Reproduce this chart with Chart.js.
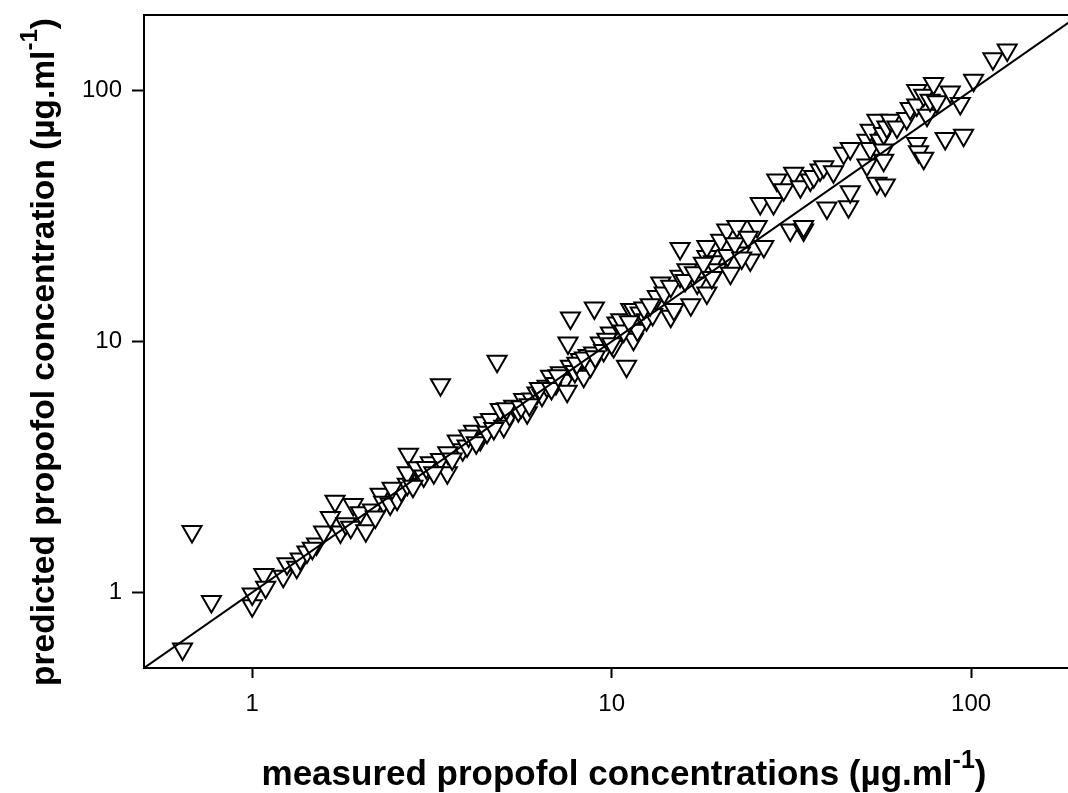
<!DOCTYPE html>
<html>
<head>
<meta charset="utf-8">
<script src="https://cdn.jsdelivr.net/npm/chart.js@4.4.1/dist/chart.umd.min.js"></script>
<style>
  html, body { margin: 0; padding: 0; background: #ffffff; overflow: hidden; }
  #wrap { width: 1068px; height: 793px; }
</style>
</head>
<body>
<div id="wrap"><canvas id="c" width="1068" height="793"></canvas></div>
<script>
// ---- data ----
const measured = [
  0.64, 0.68, 0.77, 1.0, 1.0, 1.077, 1.09, 1.22, 1.25, 1.33,
  1.36, 1.42, 1.51, 1.47, 1.58, 1.65, 1.70, 1.76, 1.82, 1.88,
  1.91, 2.0, 2.07, 2.16, 2.27, 2.32, 2.42, 2.53, 2.60, 2.70,
  2.72, 2.72, 2.70, 2.88, 3.0, 3.13, 3.34, 3.49, 3.34, 3.72,
  3.85, 3.96, 4.13, 4.31, 4.41, 4.6, 4.8, 4.9, 5.01, 5.2,
  5.34, 5.5, 5.69, 5.82, 6.0, 6.2, 6.4, 6.61, 6.76, 7.0,
  7.2, 7.4, 7.52, 7.56, 7.68, 7.68, 7.9, 8.18, 8.36, 8.6,
  8.73, 8.91, 8.95, 9.3, 9.5, 9.92, 10.13, 10.35, 10.6, 11.0,
  11.3, 11.5, 11.5, 11.8, 12.0, 12.5, 13.0, 13.4, 13.7, 14.0,
  14.6, 14.6, 14.9, 15.5, 15.5, 16.2, 16.6, 17.3, 18.4, 18.4,
  18.4, 19.2, 19.6, 20.1, 20.9, 21.4, 22.3, 22.8, 24.3, 25.4,
  25.9, 26.5, 28.2, 28.8, 30.1, 31.4, 32.1, 33.5, 34.2, 34.2,
  35.7, 36.5, 38.0, 38.9, 39.7, 41.4, 44.2, 45.6, 46.1, 46.1,
  51.3, 51.3, 52.4, 52.4, 54.7, 54.7, 55.8, 57.1, 57.1, 57.1,
  57.7, 58.3, 59.6, 62.2, 66.2, 67.7, 70.6, 70.6, 70.6, 71.4,
  73.8, 73.8, 75.4, 76.9, 78.6, 80.3, 84.7, 87.5, 93.3, 95.3,
  101.6, 115, 126,
  2.2, 2.45, 2.8, 3.05, 3.2, 3.5, 3.6, 4.0, 4.2, 4.5,
  4.7, 5.1, 5.6, 5.9, 6.3, 6.8, 7.1, 8.0, 8.4, 9.0,
  9.7, 10.0, 10.8, 11.2, 12.3, 12.8, 16.0, 17.0, 18.0, 19.0,
  21.0, 22.0, 23.0, 24.0
];
const predicted = [
  0.595, 1.75, 0.92, 0.885, 0.985, 1.18, 1.05, 1.16, 1.30, 1.26,
  1.36, 1.45, 1.56, 1.50, 1.74, 1.99, 2.31, 1.74, 1.88, 1.82,
  2.24, 2.08, 1.76, 2.13, 2.46, 2.29, 2.25, 2.35, 2.55, 2.70,
  3.55, 2.96, 3.0, 3.14, 2.91, 3.29, 3.39, 3.0, 6.73, 4.01,
  3.70, 3.83, 4.39, 4.07, 4.74, 4.89, 8.34, 5.36, 4.6, 5.1,
  5.52, 5.3, 5.87, 5.2, 5.9, 6.24, 6.1, 6.63, 7.27, 6.8,
  7.5, 7.0, 6.33, 9.86, 7.96, 12.4, 7.6, 8.47, 7.27, 8.8,
  7.96, 9.0, 13.6, 9.86, 9.2, 10.8, 9.55, 11.85, 12.2, 7.96,
  13.4, 10.2, 13.4, 11.1, 13.0, 12.2, 12.8, 15.1, 17.1, 15.6,
  16.6, 12.6, 13.4, 18.2, 23.5, 19.3, 14.0, 17.1, 15.6, 21.8,
  23.9, 20.8, 19.3, 25.3, 27.8, 18.7, 28.7, 22.5, 21.1, 28.7,
  35.5, 23.9, 35.5, 44.0, 40.2, 27.8, 46.8, 41.4, 27.8, 28.7,
  44.0, 45.4, 48.2, 49.7, 34.0, 47.5, 56.2, 34.4, 39.5, 58.8,
  63.4, 50.5, 69.5, 58.8, 76.2, 42.7, 63.4, 67.4, 57.9, 52.8,
  42.0, 71.6, 76.2, 71.6, 77.4, 84.8, 100, 87.5, 61.5, 57.0,
  95.7, 53.7, 79.8, 91.5, 106.6, 90.2, 64.4, 98.7, 88.8, 66.4,
  110, 134, 145,
  2.0, 2.6, 2.65, 3.15, 3.0, 3.6, 3.4, 4.2, 3.95, 4.35,
  4.5, 5.4, 5.5, 5.6, 6.5, 6.5, 7.3, 8.2, 8.6, 8.7,
  10.2, 9.8, 11.0, 12.0, 13.6, 14.0, 17.5, 18.8, 20.5, 18.0,
  22.0, 24.5, 21.5, 26.0
];
const identityLine = [0.5, 200];
const tickValues = [1, 10, 100];
const xTitle = "measured propofol concentrations (µg.ml";
const yTitle = "predicted propofol concentration (µg.ml";
const titleSup = "-1";
const titleClose = ")";

const points = measured.map((m, i) => ({ x: m, y: predicted[i] }));
const linePts = identityLine.map(v => ({ x: v, y: v }));

const FONT = "'Liberation Sans', Arial, sans-serif";

const framePlugin = {
  id: 'frame',
  afterDraw(chart) {
    const { ctx, chartArea: a } = chart;
    ctx.save();
    ctx.strokeStyle = '#000';
    ctx.lineWidth = 2;
    ctx.beginPath();
    ctx.moveTo(a.left - 1, a.top);
    ctx.lineTo(a.right, a.top);
    ctx.stroke();

    function drawTitle(main, cx, cy, rotate, size) {
      ctx.save();
      ctx.translate(cx, cy);
      if (rotate) ctx.rotate(-Math.PI / 2);
      ctx.fillStyle = '#000';
      ctx.textBaseline = 'alphabetic';
      ctx.textAlign = 'left';
      const mainFont = "bold " + size + "px " + FONT;
      const supFont = "bold " + Math.round(size * 0.72) + "px " + FONT;
      ctx.font = mainFont;
      const w1 = ctx.measureText(main).width;
      ctx.font = supFont;
      const w2 = ctx.measureText(titleSup).width;
      ctx.font = mainFont;
      const w3 = ctx.measureText(titleClose).width;
      const total = w1 + w2 + w3;
      let x = -total / 2;
      ctx.fillText(main, x, 12);
      x += w1;
      ctx.font = supFont;
      ctx.fillText(titleSup, x, -5);
      x += w2;
      ctx.font = mainFont;
      ctx.fillText(titleClose, x, 12);
      ctx.restore();
    }
    drawTitle(xTitle, 624, 773, false, 35);
    drawTitle(yTitle, 42, 352, true, 33.5);
    ctx.restore();
  }
};

new Chart(document.getElementById('c'), {
  type: 'scatter',
  data: {
    datasets: [
      {
        type: 'line',
        data: linePts,
        borderColor: '#000',
        borderWidth: 2,
        pointRadius: 0,
        fill: false,
        order: 0
      },
      {
        data: points,
        pointStyle: 'triangle',
        rotation: 180,
        pointRadius: 11,
        pointHoverRadius: 11,
        backgroundColor: '#ffffff',
        borderColor: '#000000',
        borderWidth: 2,
        order: 1
      }
    ]
  },
  options: {
    responsive: false,
    devicePixelRatio: 1,
    animation: false,
    events: [],
    layout: { autoPadding: false, padding: { left: 0, top: 15, right: 0, bottom: 0 } },
    plugins: { legend: { display: false }, tooltip: { enabled: false } },
    scales: {
      x: {
        type: 'logarithmic',
        min: 0.5,
        max: 186,
        afterBuildTicks: s => { s.ticks = tickValues.map(v => ({ value: v })); },
        afterFit: s => { s.height = 125; s.paddingLeft = 0; s.paddingRight = 0; },
        border: { display: true, color: '#000', width: 2 },
        grid: { display: true, drawOnChartArea: false, drawTicks: true, tickLength: 10, tickWidth: 2, tickColor: '#000' },
        ticks: {
          color: '#000',
          font: { family: FONT, size: 24 },
          padding: 12,
          maxRotation: 0,
          autoSkip: false,
          callback: v => String(v)
        }
      },
      y: {
        type: 'logarithmic',
        min: 0.5,
        max: 200,
        afterBuildTicks: s => { s.ticks = tickValues.map(v => ({ value: v })); },
        afterFit: s => { s.width = 144; s.paddingTop = 0; s.paddingBottom = 0; },
        border: { display: true, color: '#000', width: 2 },
        grid: { display: true, drawOnChartArea: false, drawTicks: true, tickLength: 12, tickWidth: 2, tickColor: '#000' },
        ticks: {
          color: '#000',
          font: { family: FONT, size: 24 },
          padding: 10,
          autoSkip: false,
          callback: v => String(v)
        }
      }
    }
  },
  plugins: [framePlugin]
});
</script>
</body>
</html>
